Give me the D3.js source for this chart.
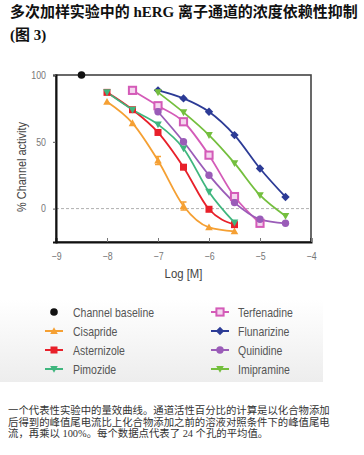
<!DOCTYPE html>
<html><head><meta charset="utf-8">
<script src="https://cdn.jsdelivr.net/npm/d3@7"></script>
<style>body{margin:0;background:#fff}svg{display:block}</style>
</head><body><svg id="c" width="364" height="455"></svg>
<script>
const xTicks = [-9, -8, -7, -6, -5, -4];
const yTicks = [0, 50, 100];
const baseline = [{x: -8.5, y: 100}];
const cisaprideX = [-8, -7.5, -7, -6.5, -6, -5.5];
const cisaprideY = [80, 64, 36, 2, -14, -17];
const cisaprideErr = [0, 0, 3, 3, 0, 0];
const astemizoleX = [-8, -7.5, -7, -6.5, -6, -5.5];
const astemizoleY = [87, 74, 57, 31, -0.5, -12];
const pimozideX = [-8, -7.5, -7, -6.5, -6, -5.5];
const pimozideY = [87, 74, 63, 45, 12.5, -10.5];
const terfenadineX = [-7.5, -7, -6.5, -6, -5.5, -5];
const terfenadineY = [88.5, 77, 65, 40, 9, -11];
const flunarizineX = [-7, -6.5, -6, -5.5, -5, -4.5];
const flunarizineY = [88.5, 82.5, 72.5, 55, 30, 8.7];
const quinidineX = [-7, -6.5, -6, -5.5, -5, -4.5];
const quinidineY = [72.5, 50, 25, 4.5, -8, -11];
const imipramineX = [-7, -6.5, -6, -5.5, -5, -4.5];
const imipramineY = [87, 72, 55, 34, 10, -5.5];

const series = [
  {name: "Cisapride", x: cisaprideX, y: cisaprideY, err: cisaprideErr, color: "#f5a033", sym: "triUp"},
  {name: "Astemizole", x: astemizoleX, y: astemizoleY, color: "#e8202a", sym: "square"},
  {name: "Pimozide", x: pimozideX, y: pimozideY, color: "#3fb67e", sym: "triDown"},
  {name: "Terfenadine", x: terfenadineX, y: terfenadineY, color: "#d45bb8", sym: "openSquare"},
  {name: "Flunarizine", x: flunarizineX, y: flunarizineY, color: "#2c3b96", sym: "diamond"},
  {name: "Quinidine", x: quinidineX, y: quinidineY, color: "#9a5cb8", sym: "circle"},
  {name: "Imipramine", x: imipramineX, y: imipramineY, color: "#74bf3e", sym: "triDown"}
];
const legendLeft = ["Channel baseline", "Cisapride", "Asternizole", "Pimozide"];
const legendRight = ["Terfenadine", "Flunarizine", "Quinidine", "Imipramine"];
const titleLines = ["多次加样实验中的 hERG 离子通道的浓度依赖性抑制", "(图 3)"];
const caption = [
  "一个代表性实验中的量效曲线。通道活性百分比的计算是以化合物添加",
  "后得到的峰值尾电流比上化合物添加之前的溶液对照条件下的峰值尾电",
  "流，再乘以 100%。每个数据点代表了 24 个孔的平均值。"
];

const svg = d3.select("#c");
const sans = "'Liberation Sans', Arial, sans-serif";
const SX = 0.84; // horizontal condensing of label font

// Title
const titleFont = "'Liberation Serif','Noto Sans CJK SC',serif";
const title = svg.append("text").attr("font-family", titleFont).attr("font-weight", "bold")
  .attr("font-size", 15).attr("fill", "#111");
const t1 = title.append("tspan").attr("x", 10).attr("y", 17).text(titleLines[0]);
const tw = t1.node().getComputedTextLength();
if (tw > 0) title.attr("font-size", 15 * 348 / tw);
title.append("tspan").attr("x", 10).attr("y", 40).text(titleLines[1]);

const L = 56, R = 311, T = 75, B = 242;
const x = d3.scaleLinear().domain([-9, -4]).range([L, R]);
const y = d3.scaleLinear().domain([-25, 100]).range([B, T]);

svg.append("rect").attr("x", L).attr("y", T).attr("width", R - L).attr("height", B - T)
  .attr("fill", "none").attr("stroke", "#444").attr("stroke-width", 1.6);
svg.append("line").attr("x1", L).attr("x2", R).attr("y1", y(0)).attr("y2", y(0))
  .attr("stroke", "#b0b0b0").attr("stroke-width", 1).attr("stroke-dasharray", "3,2");

const gx = svg.append("g").attr("transform", `translate(0,${B})`)
  .call(d3.axisBottom(x).tickValues(xTicks).tickSize(-4).tickPadding(11).tickFormat(d3.format("d")));
gx.select(".domain").attr("stroke", "#111").attr("stroke-width", 2);
gx.selectAll(".tick line").attr("stroke", "#777");
gx.selectAll(".tick text").attr("font-family", sans).attr("font-size", 10.5).attr("fill", "#777")
  .attr("transform", `scale(${SX},1)`);

const gy = svg.append("g").attr("transform", `translate(${L},0)`)
  .call(d3.axisLeft(y).tickValues(yTicks).tickSize(3).tickPadding(7));
gy.select(".domain").attr("stroke", "#111").attr("stroke-width", 2);
gy.selectAll(".tick line").attr("stroke", "#555");
gy.selectAll(".tick text").attr("font-family", sans).attr("font-size", 10.5).attr("fill", "#777")
  .attr("transform", `scale(${SX},1)`).attr("x", -10 / SX);

svg.append("text").attr("transform", `translate(${(L + R) / 2},278) scale(${SX},1)`).attr("text-anchor", "middle")
  .attr("font-family", sans).attr("font-size", 13.5).attr("fill", "#444").text("Log [M]");
svg.append("text").attr("transform", `translate(26,167) rotate(-90) scale(${SX},1)`)
  .attr("text-anchor", "middle").attr("font-family", sans).attr("font-size", 13)
  .attr("fill", "#444").text("% Channel activity");

function drawMarker(g, sym, cx, cy, color) {
  const s = 3.8;
  if (sym === "triUp") {
    g.append("path").attr("d", `M${cx},${cy - s}L${cx + s},${cy + s * 0.8}L${cx - s},${cy + s * 0.8}Z`).attr("fill", color);
  } else if (sym === "triDown") {
    g.append("path").attr("d", `M${cx},${cy + s}L${cx + s},${cy - s * 0.8}L${cx - s},${cy - s * 0.8}Z`).attr("fill", color);
  } else if (sym === "square") {
    g.append("rect").attr("x", cx - 3.5).attr("y", cy - 3.5).attr("width", 7).attr("height", 7).attr("fill", color);
  } else if (sym === "openSquare") {
    g.append("rect").attr("x", cx - 3.6).attr("y", cy - 3.6).attr("width", 7.2).attr("height", 7.2)
      .attr("fill", "#f4d6ee").attr("stroke", color).attr("stroke-width", 2);
  } else if (sym === "diamond") {
    g.append("path").attr("d", `M${cx},${cy - 4.2}L${cx + 4.2},${cy}L${cx},${cy + 4.2}L${cx - 4.2},${cy}Z`).attr("fill", color);
  } else if (sym === "circle") {
    g.append("circle").attr("cx", cx).attr("cy", cy).attr("r", 3.7).attr("fill", color);
  } else if (sym === "dot") {
    g.append("circle").attr("cx", cx).attr("cy", cy).attr("r", 3.8).attr("fill", color);
  }
}

const line = d3.line().x(d => x(d[0])).y(d => y(d[1])).curve(d3.curveMonotoneX);
const plot = svg.append("g");
series.forEach(s => {
  const pts = s.x.map((v, i) => [v, s.y[i]]);
  plot.append("path").attr("d", line(pts)).attr("fill", "none")
    .attr("stroke", s.color).attr("stroke-width", 1.8);
});
series.forEach(s => {
  const g = plot.append("g");
  s.x.forEach((v, i) => {
    if (s.err && s.err[i]) {
      const e = s.err[i];
      g.append("path").attr("d",
        `M${x(v)},${y(s.y[i] + e)}V${y(s.y[i] - e)}M${x(v) - 3},${y(s.y[i] + e)}h6M${x(v) - 3},${y(s.y[i] - e)}h6`)
        .attr("stroke", s.color).attr("stroke-width", 1.5).attr("fill", "none");
    }
    drawMarker(g, s.sym, x(v), y(s.y[i]), s.color);
  });
});
baseline.forEach(d => drawMarker(plot, "dot", x(d.x), y(d.y), "#111"));

// Legend
const defs = svg.append("defs");
const grad = defs.append("linearGradient").attr("id", "lg").attr("x1", 0).attr("y1", 0).attr("x2", 0).attr("y2", 1);
grad.append("stop").attr("offset", 0).attr("stop-color", "#ffffff");
grad.append("stop").attr("offset", 1).attr("stop-color", "#ededed");
svg.append("rect").attr("x", 0).attr("y", 300).attr("width", 323).attr("height", 82).attr("fill", "url(#lg)");

const rowsY = [312, 331, 350, 369];
const leftItems = [{sym: "dot", color: "#111", noLine: true}].concat(series.slice(0, 3));
const rightItems = series.slice(3);
function legendItem(item, label, mx, tx, ly) {
  const g = svg.append("g");
  if (!item.noLine) {
    g.append("line").attr("x1", mx - 9).attr("x2", mx + 9).attr("y1", ly).attr("y2", ly)
      .attr("stroke", item.color).attr("stroke-width", 2);
  }
  drawMarker(g, item.sym, mx, ly, item.color);
  g.append("text").attr("transform", `translate(${tx},${ly + 4.5}) scale(${SX},1)`).attr("font-family", sans)
    .attr("font-size", 12.5).attr("fill", "#555").text(label);
}
leftItems.forEach((it, i) => legendItem(it, legendLeft[i], 54, 73, rowsY[i]));
rightItems.forEach((it, i) => legendItem(it, legendRight[i], 220, 238, rowsY[i]));

// Caption
const cap = svg.append("text").attr("font-family", "'Liberation Serif', 'Noto Sans CJK SC', serif")
  .attr("font-size", 10).attr("fill", "#333");
const c1 = cap.append("tspan").attr("x", 8).attr("y", 414).text(caption[0]);
const cw = c1.node().getComputedTextLength();
if (cw > 0) cap.attr("font-size", 10 * 322 / cw);
caption.slice(1).forEach((t, i) => {
  cap.append("tspan").attr("x", 8).attr("y", 414 + (i + 1) * 11.6).text(t);
});
</script></body></html>
